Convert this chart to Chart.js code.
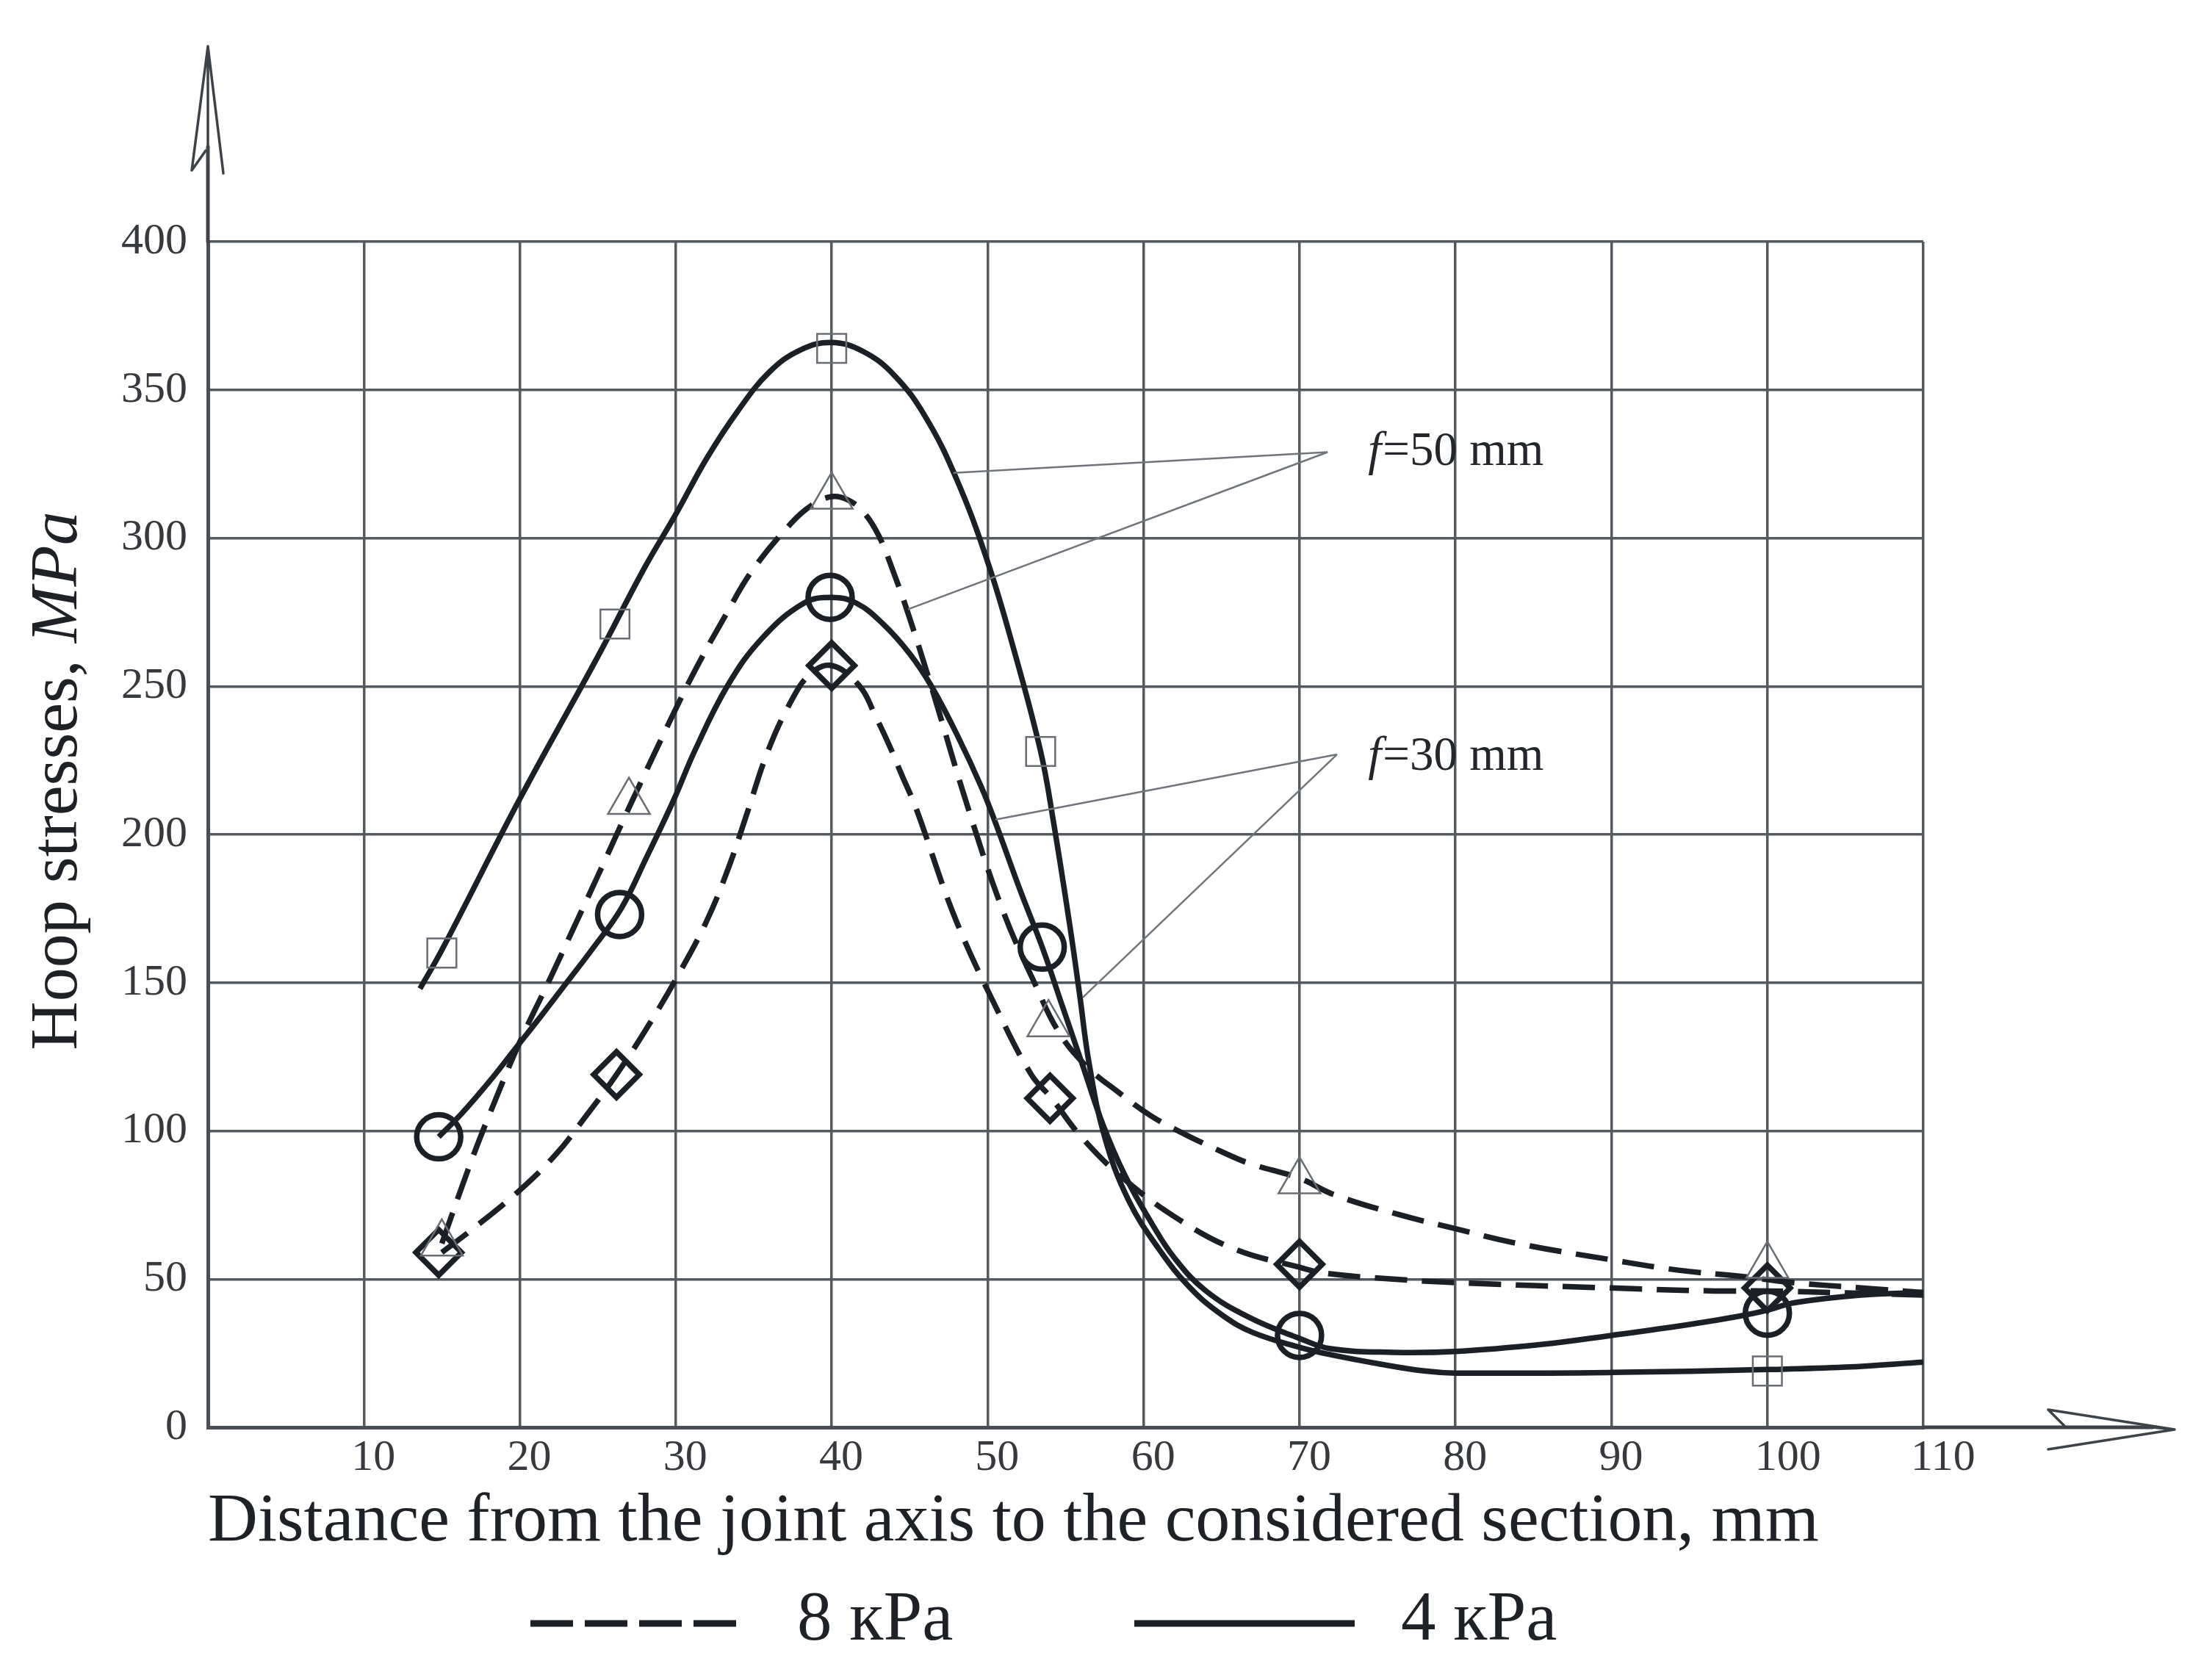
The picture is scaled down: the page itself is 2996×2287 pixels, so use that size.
<!DOCTYPE html>
<html>
<head>
<meta charset="utf-8">
<script src="https://cdn.jsdelivr.net/npm/chart.js@4.4.0/dist/chart.umd.min.js"></script>
<style>
html,body{margin:0;padding:0;background:#ffffff;}
canvas{display:block;}
</style>
</head>
<body>
<canvas id="chart" width="2996" height="2287"></canvas>
<script>
// ---------- data (x = distance, mm; y = hoop stress, MPa) ----------
const xTicks = [10, 20, 30, 40, 50, 60, 70, 80, 90, 100, 110];
const yTicks = [0, 50, 100, 150, 200, 250, 300, 350, 400];
const xTitle = 'Distance from the joint axis to the considered section, mm';
const yTitleMain = 'Hoop stresses, ';
const yTitleUnit = 'MPa';
const legendLabels = ['8 кPa', '4 кPa'];
const annotationSymbol = 'f';
const annotationTexts = ['=50 mm', '=30 mm'];

// fitted curves
const curve4kPaF50 = [[13.6,148],[15,161],[20,212],[25,260],[28,290],[30,308],[32,327],[34,343],[36,356],[38,363.5],[40,366],[42,363],[44,355],[46,341],[48,320],[50,292],[51.7,262],[53.4,228],[54.2,205],[55.25,170],[55.9,146],[56.5,123],[57.5,98],[59,77],[61,60],[63,47],[65,38],[67,32],[70,27],[72,24.5],[75,21.5],[78,19],[80,18.3],[90,18.5],[100,19.5],[105,20.3],[110,22]];
const curve4kPaF30 = [[14.8,98],[16.3,106],[18.1,117],[19.6,127],[21.4,139],[23,150],[24.6,161],[26.5,175],[28.1,192],[29.9,212],[31.2,228],[33.3,250],[35.5,266],[38.2,278],[40,280],[41.6,278],[43.3,271],[45,261],[46.4,250],[48.1,233],[49.6,216],[50.5,204],[52.1,181],[53.5,162],[54.8,142],[56.1,122],[57.4,102],[58.8,85],[60.5,69],[62,57],[64,46],[66.8,37],[70,30],[72,26.5],[76,25.3],[80,25.6],[85.6,28],[90,31],[95,34.7],[98.2,37.5],[100,39.5],[101.7,42],[106,44.6],[110,45.5]];
const curve8kPaF50 = [[15,62],[16.9,90],[18.4,110],[20,130],[22,152],[23.5,169],[25,186],[27,209],[29.6,238],[31.3,256],[33.2,274],[34.9,289],[37.4,305],[38.7,311],[40,314],[41,313],[42,309],[43,301],[44,288],[45,273],[46.5,248],[48.8,208],[51,174],[53,150],[54.6,133],[56.3,122],[58.4,113],[60.5,105],[62.6,99],[65,93],[66.8,89],[70,84],[72.2,78.5],[76.2,72],[80,67],[84,62],[90,56.5],[94.3,53],[98.2,51],[101.3,49],[106,47],[110,45.5]];
const curve8kPaF30 = [[15,59],[17,67],[20,80],[22.3,92],[24.1,104],[26.2,119],[28.3,136],[30.2,153],[32,171],[33.4,189],[34.5,206],[35.9,228],[37.4,245],[38.6,254],[40,257],[41.8,250],[42.8,240],[43.7,230],[44.5,220],[45.4,209],[47.9,172],[50.6,141],[52.8,119],[54.1,111],[56,98],[58.7,84],[62.3,70],[65.9,60],[70,54],[71.6,52],[76,50],[80,48.8],[90,47],[96.6,46],[100,46],[110,44.6]];

// measured points
const points4kPaF50 = [[15,160],[26.1,271],[40,364],[53.4,228],[100,19]];              // squares
const points4kPaF30 = [[14.8,98],[26.4,173],[39.9,280],[53.5,162],[70,31],[100,38.5]];  // circles
const points8kPaF50 = [[15,62],[27,211],[40,314],[53.9,136],[70,83],[100,54.5]];        // triangles
const points8kPaF30 = [[14.8,59],[26.2,119],[40,257],[54,111],[70,55],[100,47]];        // diamonds

// annotation anchors (data coordinates): label position, hub, leader targets
const annF50 = { at: [74.4, 329], hub: [71.8, 329], targets: [[47.8, 322], [44.9, 276]] };
const annF30 = { at: [74.4, 226], hub: [72.4, 227], targets: [[50.5, 205], [56.1, 145]] };

// ---------- styles ----------
const FONT = "'Liberation Serif', 'Times New Roman', serif";
const INK = '#1b2027';
const GRID = '#555a60';
const TICK = '#363a3f';
const THIN = '#6a6e74';
const DASH = [44, 20];

const toXY = arr => arr.map(([x, y]) => ({ x, y }));

const markerBase = { showLine: false, pointBackgroundColor: 'rgba(0,0,0,0)', order: 0 };
const curveBase = { pointRadius: 0, borderColor: INK, borderWidth: 7.5, fill: false, tension: 0.4, order: 1, borderCapStyle: 'butt' };

const datasets = [
  Object.assign({ label: 'f=50 mm, 4 кPa (points)', data: toXY(points4kPaF50), pointStyle: 'rect', pointRadius: 28, pointBorderWidth: 2.5, pointBorderColor: THIN }, markerBase),
  Object.assign({ label: 'f=30 mm, 4 кPa (points)', data: toXY(points4kPaF30), pointStyle: 'circle', pointRadius: 30, pointBorderWidth: 7.5, pointBorderColor: INK }, markerBase),
  Object.assign({ label: 'f=50 mm, 8 кPa (points)', data: toXY(points8kPaF50), pointStyle: 'triangle', pointRadius: 33, pointBorderWidth: 2.5, pointBorderColor: THIN }, markerBase),
  Object.assign({ label: 'f=30 mm, 8 кPa (points)', data: toXY(points8kPaF30), pointStyle: 'rectRot', pointRadius: 31, pointBorderWidth: 7.5, pointBorderColor: INK }, markerBase),
  Object.assign({ label: 'f=50 mm, 4 кPa', data: toXY(curve4kPaF50) }, curveBase),
  Object.assign({ label: 'f=30 mm, 4 кPa', data: toXY(curve4kPaF30) }, curveBase),
  Object.assign({ label: 'f=50 mm, 8 кPa', data: toXY(curve8kPaF50), borderDash: DASH }, curveBase),
  Object.assign({ label: 'f=30 mm, 8 кPa', data: toXY(curve8kPaF30), borderDash: DASH }, curveBase)
];

// ---------- plugins ----------
const background = {
  id: 'background',
  beforeDraw(chart) {
    const c = chart.ctx;
    c.save(); c.fillStyle = '#ffffff'; c.fillRect(0, 0, chart.width, chart.height); c.restore();
  }
};

const decorations = {
  id: 'decorations',
  afterDraw(chart) {
    const c = chart.ctx;
    const xs = chart.scales.x, ys = chart.scales.y;
    const x0 = xs.getPixelForValue(0), y0 = ys.getPixelForValue(0);
    const top = chart.chartArea.top;
    c.save();
    c.strokeStyle = '#3e4349';
    c.lineCap = 'round'; c.lineJoin = 'round';
    // y axis extension + arrow
    c.lineWidth = 5;
    c.beginPath(); c.moveTo(x0, top); c.lineTo(x0, 200); c.stroke();
    c.lineWidth = 3.5;
    c.beginPath();
    c.moveTo(x0, 200); c.lineTo(x0, 63);
    c.moveTo(x0, 63); c.lineTo(x0 - 22, 232); c.lineTo(x0 - 3, 205);
    c.moveTo(x0, 63); c.lineTo(x0 + 21, 236);
    c.stroke();
    // x axis extension + arrow
    const xEnd = 2960;
    c.lineWidth = 5;
    c.beginPath(); c.moveTo(chart.chartArea.right, y0); c.lineTo(xEnd - 30, y0); c.stroke();
    c.lineWidth = 3.5;
    c.beginPath();
    c.moveTo(xEnd - 30, y0); c.lineTo(xEnd, y0 + 3);
    c.moveTo(xEnd, y0 + 3); c.lineTo(xEnd - 172, y0 - 24); c.lineTo(xEnd - 150, y0 - 2);
    c.moveTo(xEnd, y0 + 3); c.lineTo(xEnd - 172, y0 + 30);
    c.stroke();

    // annotation leaders and labels
    c.strokeStyle = '#70757b'; c.lineWidth = 2.5; c.lineCap = 'butt';
    [[annF50, annotationTexts[0]], [annF30, annotationTexts[1]]].forEach(([a, txt]) => {
      const hx = xs.getPixelForValue(a.hub[0]), hy = ys.getPixelForValue(a.hub[1]);
      a.targets.forEach(t => {
        c.beginPath(); c.moveTo(hx, hy); c.lineTo(xs.getPixelForValue(t[0]), ys.getPixelForValue(t[1])); c.stroke();
      });
      const tx = xs.getPixelForValue(a.at[0]), ty = ys.getPixelForValue(a.at[1]);
      c.fillStyle = '#23272c'; c.textBaseline = 'middle'; c.textAlign = 'left';
      c.font = 'italic 65px ' + FONT;
      c.fillText(annotationSymbol, tx, ty);
      const fw = c.measureText(annotationSymbol).width;
      c.font = '65px ' + FONT;
      c.fillText(txt, tx + fw + 2, ty);
    });

    // y axis title (mixed style)
    c.save();
    c.translate(80, 1063);
    c.rotate(-Math.PI / 2);
    c.fillStyle = '#1e2227'; c.textBaseline = 'middle'; c.textAlign = 'left';
    c.font = '92px ' + FONT;
    const w1 = c.measureText(yTitleMain).width;
    c.font = 'italic 92px ' + FONT;
    const w2 = c.measureText(yTitleUnit).width;
    const sx = -(w1 + w2) / 2;
    c.font = '92px ' + FONT;
    c.fillText(yTitleMain, sx, 0);
    c.font = 'italic 92px ' + FONT;
    c.fillText(yTitleUnit, sx + w1, 0);
    c.restore();

    // legend
    const ly = 2210;
    c.strokeStyle = INK; c.lineWidth = 9; c.lineCap = 'butt';
    c.setLineDash([58, 16]);
    c.beginPath(); c.moveTo(722, ly); c.lineTo(1013, ly); c.stroke();
    c.setLineDash([]);
    c.beginPath(); c.moveTo(1544, ly); c.lineTo(1844, ly); c.stroke();
    c.fillStyle = '#1e2227'; c.font = '95px ' + FONT; c.textBaseline = 'middle'; c.textAlign = 'left';
    c.fillText(legendLabels[0], 1085, 2207);
    c.fillText(legendLabels[1], 1907, 2207);
    c.restore();
  }
};

new Chart(document.getElementById('chart'), {
  type: 'line',
  data: { datasets },
  options: {
    responsive: false,
    animation: false,
    events: [],
    layout: { padding: { left: 0, right: 378, top: 329, bottom: 0 } },
    plugins: { legend: { display: false }, tooltip: { enabled: false } },
    scales: {
      x: {
        type: 'linear', min: 0, max: 110,
        afterBuildTicks: s => { s.ticks = xTicks.map(v => ({ value: v })); },
        ticks: { align: 'start', labelOffset: -17, padding: 6, font: { family: FONT, size: 60 }, color: TICK, maxRotation: 0, autoSkip: false },
        grid: { color: GRID, lineWidth: 3.5, drawTicks: false },
        border: { color: '#4a4f55', width: 5 },
        title: { display: true, text: xTitle, align: 'start', font: { family: FONT, size: 94 }, color: '#1e2227', padding: { top: 0, bottom: 158 } },
        afterFit: s => { s.height = 344; }
      },
      y: {
        type: 'linear', min: 0, max: 400,
        afterBuildTicks: s => { s.ticks = yTicks.map(v => ({ value: v })); },
        ticks: { padding: 28, font: { family: FONT, size: 60 }, color: TICK, autoSkip: false },
        grid: { color: GRID, lineWidth: 3.5, drawTicks: false },
        border: { color: '#4a4f55', width: 5 },
        afterFit: s => { s.width = 283; }
      }
    }
  },
  plugins: [background, decorations]
});
</script>
</body>
</html>
